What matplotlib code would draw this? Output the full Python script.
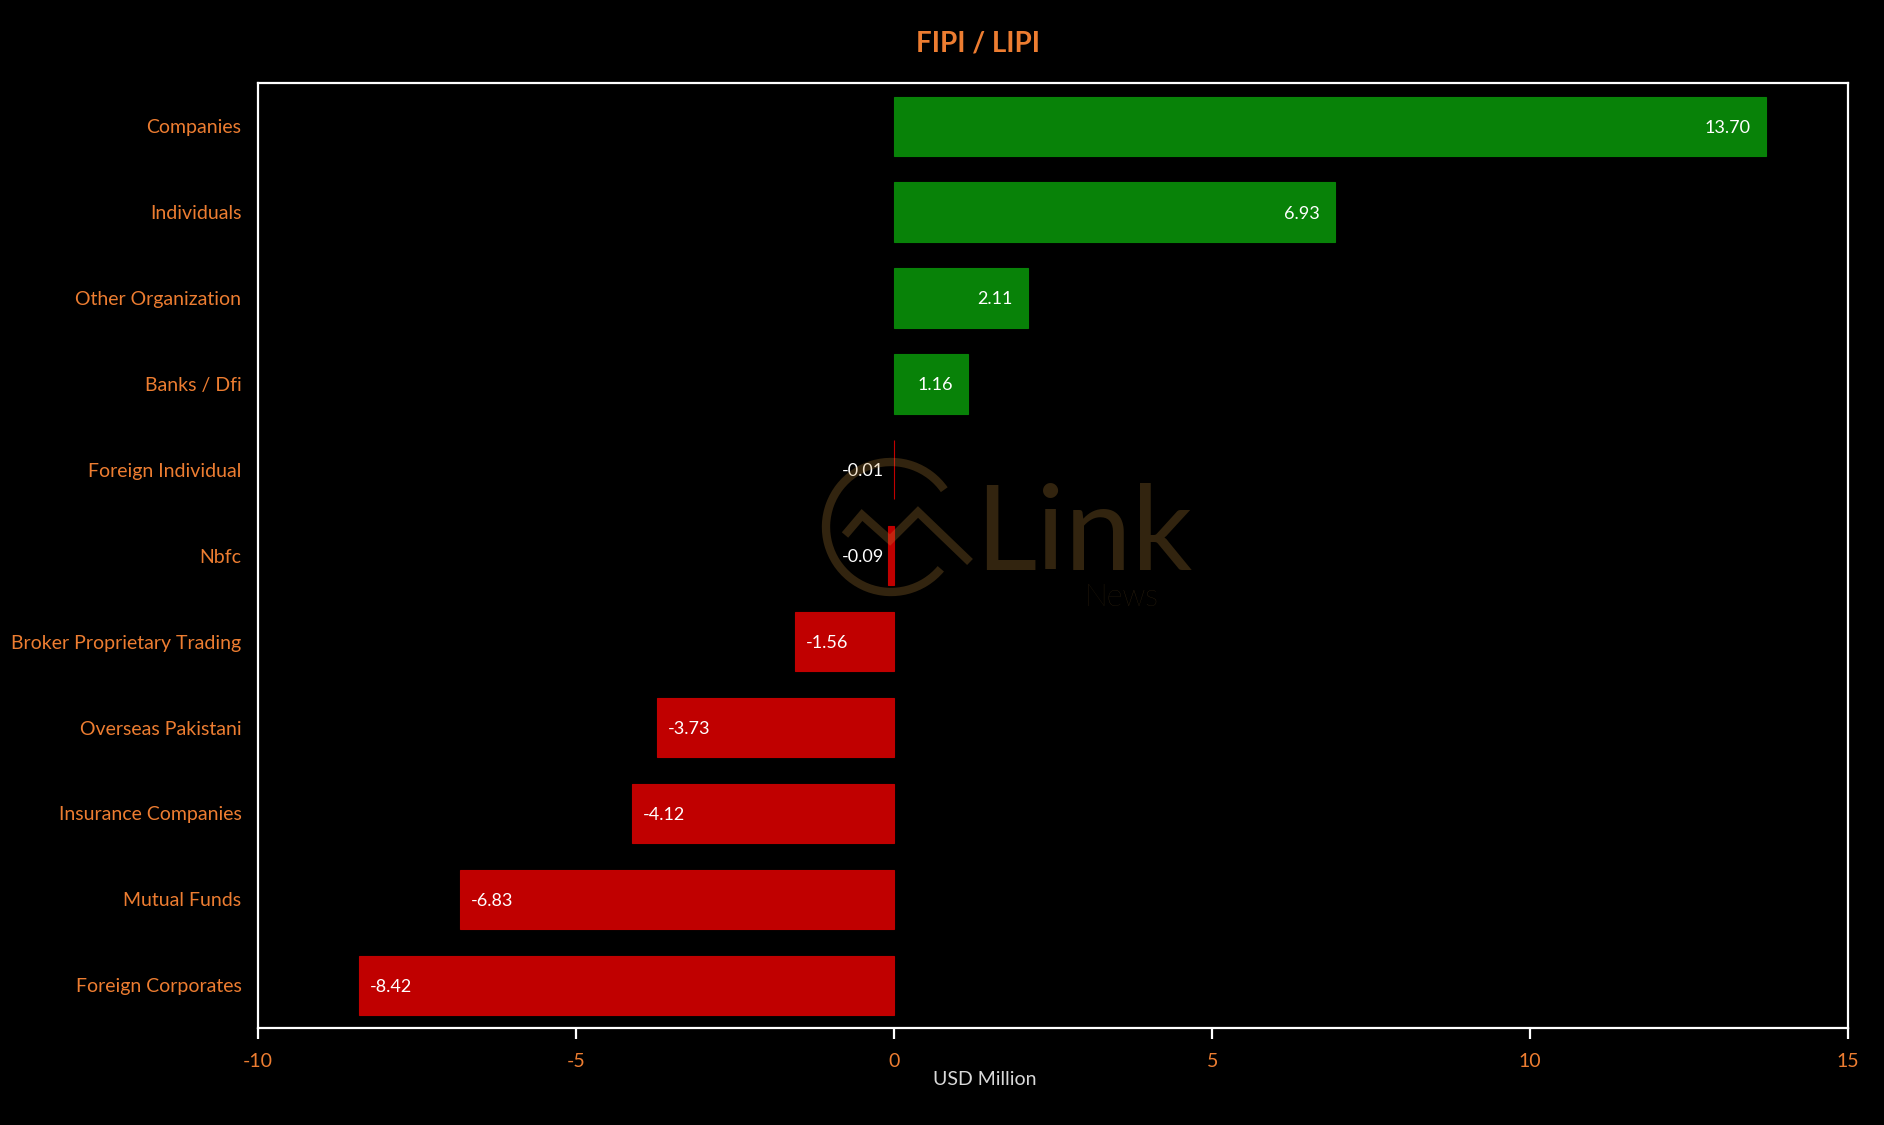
import numpy as np
import matplotlib
matplotlib.use('Agg')
import matplotlib.pyplot as plt
from matplotlib.patches import Arc

categories = ['Companies', 'Individuals', 'Other Organization', 'Banks / Dfi',
              'Foreign Individual', 'Nbfc', 'Broker Proprietary Trading',
              'Overseas Pakistani', 'Insurance Companies', 'Mutual Funds',
              'Foreign Corporates']
values = [13.70, 6.93, 2.11, 1.16, -0.01, -0.09, -1.56, -3.73, -4.12, -6.83, -8.42]
xticks = [-10, -5, 0, 5, 10, 15]

orange = '#ED7D31'
green = '#088208'
red = '#C00000'

plt.rcParams['font.family'] = ['Lato', 'DejaVu Sans']

fig = plt.figure(figsize=(18.84, 11.25), dpi=100, facecolor='black')
ax = fig.add_axes([0.137, 0.086, 0.844, 0.840], facecolor='black')

y = np.arange(len(categories))
colors = [green if v >= 0 else red for v in values]
ax.barh(y, values, height=0.69, color=colors, edgecolor=colors, linewidth=0.8, zorder=2)

ax.set_ylim(len(categories) - 0.5, -0.5)
ax.set_xlim(-10, 15)
ax.set_xticks(xticks)
ax.set_xticklabels([str(t) for t in xticks])
ax.set_yticks(y)
ax.set_yticklabels(categories)

for s in ax.spines.values():
    s.set_color('white')
    s.set_linewidth(1.6)
ax.tick_params(axis='x', colors='white', length=8, width=1.6, labelcolor=orange,
               labelsize=14, pad=10)
ax.tick_params(axis='y', length=0, labelcolor=orange, labelsize=14, pad=12)

ax.set_xlabel('USD Million', color='#d9d9d9', fontsize=14)
ax.xaxis.set_label_coords(0.457, -0.045)

# value labels
for yi, v in zip(y, values):
    lab = '%.2f' % v
    if v >= 0:
        ax.annotate(lab, (v, yi), xytext=(-11, -1), textcoords='offset points',
                    ha='right', va='center', color='white', fontsize=13, zorder=3)
    elif v > -0.5:
        ax.annotate(lab, (0, yi), xytext=(-7, -1), textcoords='offset points',
                    ha='right', va='center', color='white', fontsize=13, zorder=3)
    else:
        ax.annotate(lab, (v, yi), xytext=(8, -1), textcoords='offset points',
                    ha='left', va='center', color='white', fontsize=13, zorder=3)

fig.text(0.519, 0.9615, 'FIPI / LIPI', color=orange, fontsize=20, fontweight='bold',
         ha='center', va='center')

# watermark (Link News logo)
wm = fig.add_axes([0, 0, 1, 1], facecolor='none')
wm.set_xlim(0, 1884)
wm.set_ylim(1125, 0)
wm.axis('off')
wcol = '#C8903C'
wa = 0.25
wm.add_patch(Arc((891, 527), 130, 130, angle=0, theta1=40, theta2=325,
                 color=wcol, alpha=wa, lw=6))
wm.plot([845, 862, 890, 918, 970], [535, 515, 540, 512, 562], color=wcol, alpha=wa,
        lw=6, solid_joinstyle='miter', solid_capstyle='butt')
wm.text(975, 570, 'Link', color=wcol, alpha=wa, fontsize=86, fontweight='normal',
        ha='left', va='baseline')
wm.text(1084, 606, 'News', color=wcol, alpha=wa, fontsize=22, fontweight='light',
        ha='left', va='baseline')

fig.savefig('out.png', dpi=100, facecolor='black')
